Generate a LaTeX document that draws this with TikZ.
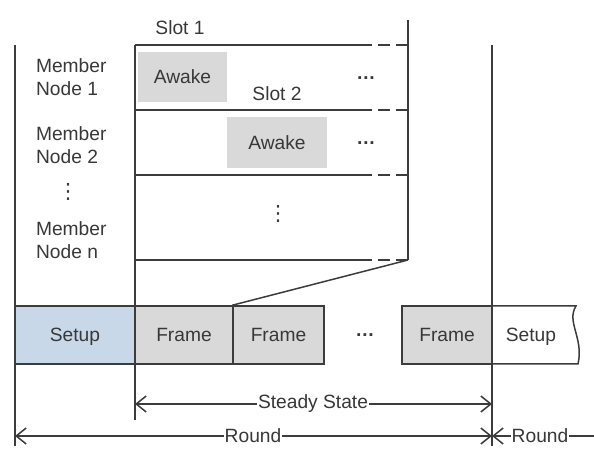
\documentclass[tikz,border=0pt]{standalone}
\usepackage{fontspec}
\setmainfont{Liberation Sans}
\newfontfamily\dvfont{DejaVu Sans}
\usetikzlibrary{arrows.meta}
\definecolor{ln}{HTML}{3C3C3C}
\definecolor{tx}{HTML}{383838}
\definecolor{awk}{HTML}{D9D9D9}
\definecolor{frm}{HTML}{D9D9D9}
\definecolor{stp}{HTML}{C8D8E8}
\begin{document}
\begin{tikzpicture}[x=0.5pt,y=-0.5pt,
  every node/.style={font=\fontsize{9.6}{11.5}\selectfont, text=tx},
  ln/.style={draw=ln, line width=0.75pt},
  dsh/.style={draw=ln, line width=0.75pt, dash pattern=on 6pt off 3pt},
  awake/.style={fill=awk, inner sep=0pt, minimum width=#1, text height=7pt, text depth=0pt},
  awake/.default=44.5pt,
  fbox/.style={draw=ln, line width=0.75pt, inner sep=0pt, minimum height=29pt, text height=7pt, text depth=0pt},
  hd/.style={font=\fontsize{9.6}{11.5}\selectfont\bfseries, inner sep=0pt},
  vd/.style={font=\dvfont\fontsize{10.5}{12}\selectfont, inner sep=0pt},
  lbl/.style={fill=white, inner sep=0.5pt},
  tip/.style={-{Straight Barb[length=5pt,width=8pt]}}
]
\useasboundingbox (0,0) rectangle (594,458);

% awake boxes
\node[awake=44.5pt, minimum height=25pt] (aw1) at (182.5,77) {Awake};
\node[awake=50pt, minimum height=25.5pt] (aw2) at (277,142.5) {Awake};

% coordinates of slot area
\coordinate (l0) at (135,45);  \coordinate (m0) at (360,45);  \coordinate (r0) at (408,45);
\coordinate (l1) at (135,110); \coordinate (m1) at (360,110); \coordinate (r1) at (408,110);
\coordinate (l2) at (135,175); \coordinate (m2) at (360,175); \coordinate (r2) at (408,175);
\coordinate (l3) at (135,260); \coordinate (m3) at (360,260); \coordinate (r3) at (408,260);
\coordinate (rtop) at (408,20);

\draw[ln] (l0) -- (m0); \draw[dsh] (m0) -- (r0);
\draw[ln] (l1) -- (m1); \draw[dsh] (m1) -- (r1);
\draw[ln] (l2) -- (m2); \draw[dsh] (m2) -- (r2);
\draw[ln] (l3) -- (m3); \draw[dsh] (m3) -- (r3);
\draw[ln] (rtop) -- (r3);

% long vertical lines
\coordinate (va) at (15,45);  \coordinate (vb) at (15,446);
\coordinate (vc) at (135,420);
\coordinate (vd) at (492,45); \coordinate (ve) at (492,446);
\draw[ln] (va) -- (vb);
\draw[ln] (l0) -- (vc);
\draw[ln] (vd) -- (ve);

% labels top
\node (s1) at (180,28) {Slot 1};
\node (s2) at (277,94) {Slot 2};
\node[hd] (d1) at (366,78) {…};
\node[hd] (d2) at (366,143) {…};
\node[vd] (d3) at (278,214) {⋮};

\node[align=left, anchor=west] (mn1) at (29,77) {Member\\Node 1};
\node[align=left, anchor=west] (mn2) at (29,145) {Member\\Node 2};
\node[vd] (dl) at (68,192) {⋮};
\node[align=left, anchor=west] (mnn) at (29,240) {Member\\Node n};

% bottom row
\node[fbox, fill=stp, minimum width=60pt] (su1) at (75,335) {Setup};
\node[fbox, fill=frm, minimum width=49pt] (f1) at (184,335) {Frame};
\node[fbox, fill=frm, minimum width=45.5pt] (f2) at (278.5,335) {Frame};
\node[hd] (d4) at (365,335) {…};
\node[fbox, fill=frm, minimum width=45pt] (f3) at (447,335) {Frame};
\node[inner sep=0pt, text height=7pt, text depth=0pt] (su2) at (531,335) {Setup};
\draw[ln] (492,306) -- (576,306) .. controls (566,322) and (584,338) .. (578,364) -- (492,364);

% zoom connector
\draw[ln] (r3) -- (f2.north west);

% dimension arrows
\coordinate (ssl) at (135,404); \coordinate (ssr) at (492,404);
\draw[ln, tip] (313,404) -- (ssl);
\draw[ln, tip] (313,404) -- (ssr);
\node[lbl] (ss) at (313,404) {Steady State};

\coordinate (rdl) at (15,436); \coordinate (rdr) at (492,436);
\draw[ln, tip] (253,436) -- (rdl);
\draw[ln, tip] (253,436) -- (rdr);
\node[lbl] (rd) at (253,436) {Round};

\coordinate (r2l) at (492,436); \coordinate (r2r) at (594,436);
\draw[ln, tip] (r2r) -- (r2l);
\node[lbl] (rd2) at (540,436) {Round};
\end{tikzpicture}
\end{document}
